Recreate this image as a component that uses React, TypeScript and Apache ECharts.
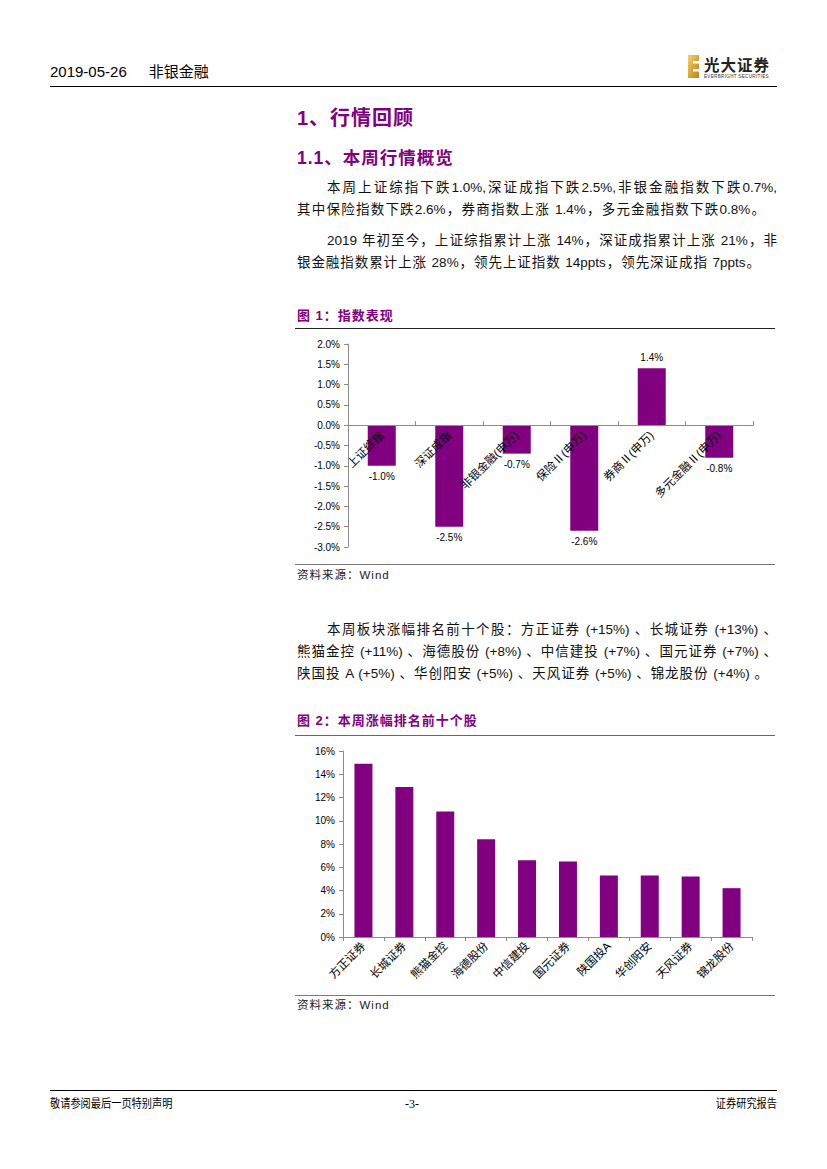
import React, { useEffect, useRef } from "react";
import * as echarts from "echarts";

// ---------- data ----------
const indexCategories = ["上证综指", "深证成指", "非银金融(申万)", "保险Ⅱ(申万)", "券商Ⅱ(申万)", "多元金融Ⅱ(申万)"];
const indexValues = [-1.0, -2.5, -0.7, -2.6, 1.4, -0.8];
const indexAxisMin = -3;
const indexAxisMax = 2;
const indexAxisStep = 0.5;

const stockCategories = ["方正证券", "长城证券", "熊猫金控", "海德股份", "中信建投", "国元证券", "陕国投A", "华创阳安", "天风证券", "锦龙股份"];
const stockValues = [14.9, 12.9, 10.8, 8.4, 6.6, 6.5, 5.3, 5.3, 5.2, 4.2];
const stockAxisMin = 0;
const stockAxisMax = 16;
const stockAxisStep = 2;

const para1 = [
  "本周上证综指下跌1.0%,深证成指下跌2.5%,非银金融指数下跌0.7%,",
  "其中保险指数下跌2.6%，券商指数上涨 1.4%，多元金融指数下跌0.8%。",
];
const para2 = [
  "2019 年初至今，上证综指累计上涨 14%，深证成指累计上涨 21%，非",
  "银金融指数累计上涨 28%，领先上证指数 14ppts，领先深证成指 7ppts。",
];
const para3 = [
  "本周板块涨幅排名前十个股：方正证券 (+15%) 、长城证券 (+13%) 、",
  "熊猫金控 (+11%) 、海德股份 (+8%) 、中信建投 (+7%) 、国元证券 (+7%) 、",
  "陕国投 A (+5%) 、华创阳安 (+5%) 、天风证券 (+5%) 、锦龙股份 (+4%) 。",
];

const PURPLE = "#800080";
const FONT = '"Liberation Sans", Arial, "Noto Sans CJK SC", sans-serif';

function EChart({ option, style }: { option: any; style: React.CSSProperties }) {
  const ref = useRef<HTMLDivElement>(null);
  useEffect(() => {
    const chart = echarts.init(ref.current!, null, { renderer: "svg" });
    chart.setOption(option);
    return () => chart.dispose();
  }, []);
  return <div ref={ref} style={style} />;
}

// chart 1 layout
const c1H = 225;
const c1Grid = { left: 53, right: 22, top: 9, bottom: 13 };
const c1PlotH = c1H - c1Grid.top - c1Grid.bottom;
// move the category axis (line, ticks, labels) up to the value axis' zero
const c1ZeroOffset = -c1PlotH * (0 - indexAxisMin) / (indexAxisMax - indexAxisMin);

const indexOption = {
  animation: false,
  grid: { ...c1Grid, containLabel: false, outerBoundsMode: "none" },
  xAxis: {
    type: "category",
    data: indexCategories,
    z: 10,
    offset: c1ZeroOffset,
    axisLine: { onZero: false, lineStyle: { color: "#8c8c8c", width: 1 } },
    axisTick: { show: true, inside: true, length: 4, lineStyle: { color: "#8c8c8c" } },
    axisLabel: { rotate: 45, interval: 0, margin: 8, fontSize: 11.5, color: "#000", fontFamily: FONT },
  },
  yAxis: {
    type: "value",
    min: indexAxisMin,
    max: indexAxisMax,
    interval: indexAxisStep,
    splitLine: { show: false },
    axisLine: { show: true, lineStyle: { color: "#8c8c8c", width: 1 } },
    axisTick: { show: true, length: 4, lineStyle: { color: "#8c8c8c" } },
    axisLabel: { fontSize: 10, color: "#000", margin: 8, fontFamily: FONT, formatter: (v: number) => v.toFixed(1) + "%" },
  },
  series: [
    {
      type: "bar",
      barWidth: 28,
      itemStyle: { color: PURPLE },
      data: indexValues.map((v) => ({
        value: v,
        label: { position: v < 0 ? "bottom" : "top" },
      })),
      label: {
        show: true,
        distance: 6,
        fontSize: 10,
        color: "#000",
        fontFamily: FONT,
        formatter: (p: any) => Number(p.value).toFixed(1) + "%",
      },
    },
  ],
};

const stockOption = {
  animation: false,
  grid: { left: 48, right: 23, top: 11, bottom: 53, containLabel: false, outerBoundsMode: "none" },
  xAxis: {
    type: "category",
    data: stockCategories,
    axisLine: { lineStyle: { color: "#8c8c8c", width: 1 } },
    axisTick: { show: true, length: 4, lineStyle: { color: "#8c8c8c" } },
    axisLabel: { rotate: 45, interval: 0, margin: 7, fontSize: 11.5, color: "#000", fontFamily: FONT },
  },
  yAxis: {
    type: "value",
    min: stockAxisMin,
    max: stockAxisMax,
    interval: stockAxisStep,
    splitLine: { show: false },
    axisLine: { show: true, lineStyle: { color: "#8c8c8c", width: 1 } },
    axisTick: { show: true, length: 4, lineStyle: { color: "#8c8c8c" } },
    axisLabel: { fontSize: 10, color: "#000", margin: 8, fontFamily: FONT, formatter: (v: number) => v + "%" },
  },
  series: [
    {
      type: "bar",
      barWidth: 18,
      itemStyle: { color: PURPLE },
      data: stockValues,
    },
  ],
};

function Line({ text, left, width, cy }: { text: string; left: number; width: number; cy: number }) {
  return (
    <div
      style={{
        position: "absolute",
        left,
        top: cy - 11,
        width,
        height: 22,
        lineHeight: "22px",
        fontSize: 13.5,
        fontFamily: FONT,
        color: "#111",
        whiteSpace: "nowrap",
        textAlign: "justify",
        textAlignLast: "justify" as any,
      }}
    >
      {text}
    </div>
  );
}

function Abs({ children, style }: { children?: React.ReactNode; style: React.CSSProperties }) {
  return <div style={{ position: "absolute", whiteSpace: "nowrap", ...style }}>{children}</div>;
}

export default function App() {
  return (
    <div style={{ position: "absolute", left: 0, top: 0, width: 827, height: 1169, background: "#fff", overflow: "hidden" }}>
      {/* header */}
      <Abs style={{ left: 50, top: 62, fontSize: 15, lineHeight: "20px", fontFamily: FONT, color: "#000" }}>
        2019-05-26<span style={{ display: "inline-block", width: 22 }} />非银金融
      </Abs>
      <svg style={{ position: "absolute", left: 686, top: 53 }} width={92} height={28} viewBox="0 0 92 28">
        <defs>
          <linearGradient id="gold" x1="0" y1="0" x2="1" y2="1">
            <stop offset="0" stopColor="#f3d27a" />
            <stop offset="0.5" stopColor="#d9a73a" />
            <stop offset="1" stopColor="#b8861f" />
          </linearGradient>
        </defs>
        <rect x={2} y={2} width={11} height={23} fill="url(#gold)" />
        <rect x={7} y={8} width={6} height={2.5} fill="#fff" />
        <rect x={7} y={16} width={6} height={2.5} fill="#fff" />
        <text x={18} y={18} fontSize={15.5} fontWeight={700} fontFamily='"Noto Sans CJK SC"' fill="#222" letterSpacing={1}>
          光大证券
        </text>
        <text x={18} y={25} fontSize={4.6} fontFamily={FONT} fill="#333" letterSpacing={0.3}>
          EVERBRIGHT SECURITIES
        </text>
      </svg>
      <Abs style={{ left: 50, top: 86, width: 727, height: 0, borderTop: "1.5px solid #000" }} />

      {/* headings */}
      <Abs style={{ left: 297, top: 104, fontSize: 20, lineHeight: "28px", fontWeight: 700, color: PURPLE, fontFamily: FONT, letterSpacing: 1 }}>
        1、行情回顾
      </Abs>
      <Abs style={{ left: 297, top: 145, fontSize: 17.5, lineHeight: "26px", fontWeight: 700, color: PURPLE, fontFamily: FONT, letterSpacing: 1 }}>
        1.1、本周行情概览
      </Abs>

      <Line text={para1[0]} left={327} width={450} cy={188} />
      <Line text={para1[1]} left={297} width={468} cy={210} />
      <Line text={para2[0]} left={327} width={450} cy={241} />
      <Line text={para2[1]} left={297} width={463} cy={263} />

      {/* figure 1 */}
      <Abs style={{ left: 297, top: 307, fontSize: 13, lineHeight: "18px", fontWeight: 700, color: PURPLE, fontFamily: FONT, letterSpacing: 1 }}>
        图 1：指数表现
      </Abs>
      <Abs style={{ left: 295, top: 328, width: 480, height: 0, borderTop: "1px solid #222" }} />
      <EChart option={indexOption} style={{ position: "absolute", left: 295, top: 335, width: 480, height: c1H }} />
      <Abs style={{ left: 295, top: 564, width: 480, height: 0, borderTop: "1.5px solid #777" }} />
      <Abs style={{ left: 297, top: 567, fontSize: 11.5, lineHeight: "16px", color: "#222", fontFamily: FONT, letterSpacing: 1 }}>
        资料来源：Wind
      </Abs>

      <Line text={para3[0]} left={327} width={450} cy={630} />
      <Line text={para3[1]} left={297} width={480} cy={652} />
      <Line text={para3[2]} left={297} width={471} cy={674} />

      {/* figure 2 */}
      <Abs style={{ left: 297, top: 712, fontSize: 13, lineHeight: "18px", fontWeight: 700, color: PURPLE, fontFamily: FONT, letterSpacing: 1 }}>
        图 2：本周涨幅排名前十个股
      </Abs>
      <Abs style={{ left: 295, top: 735, width: 480, height: 0, borderTop: "1px solid #666" }} />
      <EChart option={stockOption} style={{ position: "absolute", left: 295, top: 740, width: 480, height: 250 }} />
      <Abs style={{ left: 295, top: 995, width: 480, height: 0, borderTop: "1.5px solid #777" }} />
      <Abs style={{ left: 297, top: 997, fontSize: 11.5, lineHeight: "16px", color: "#222", fontFamily: FONT, letterSpacing: 1 }}>
        资料来源：Wind
      </Abs>

      {/* footer */}
      <Abs style={{ left: 50, top: 1090, width: 727, height: 0, borderTop: "1.5px solid #000" }} />
      <Abs style={{ left: 50, top: 1096, fontSize: 12, lineHeight: "16px", color: "#000", fontFamily: FONT, transform: "scaleX(0.85)", transformOrigin: "left" }}>
        敬请参阅最后一页特别声明
      </Abs>
      <Abs style={{ left: 392, top: 1096, width: 40, textAlign: "center", fontSize: 12, lineHeight: "16px", color: "#000", fontFamily: '"Liberation Serif", serif' }}>
        -3-
      </Abs>
      <Abs style={{ left: 677, top: 1096, width: 100, textAlign: "right", fontSize: 12, lineHeight: "16px", color: "#000", fontFamily: FONT, transform: "scaleX(0.85)", transformOrigin: "right" }}>
        证券研究报告
      </Abs>
    </div>
  );
}
